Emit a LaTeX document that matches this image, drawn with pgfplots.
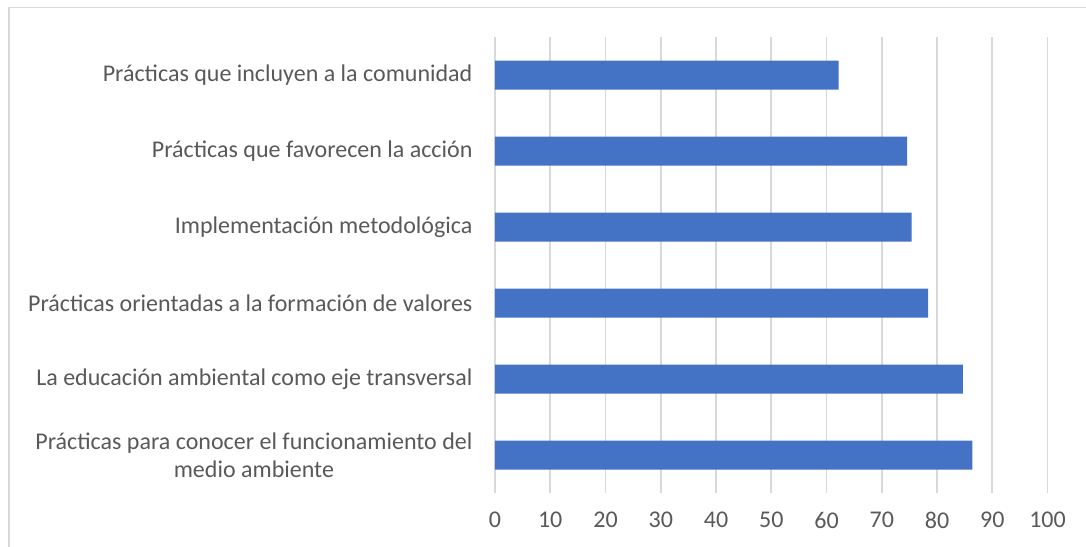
\documentclass[border=0pt]{standalone}
\usepackage{fontspec}
\setmainfont{Carlito}
\usepackage{pgfplots}
\pgfplotsset{compat=1.18}
\definecolor{barblue}{HTML}{4472C4}
\definecolor{txt}{HTML}{595959}
\definecolor{gridc}{HTML}{D9D9D9}
\begin{document}
\begin{tikzpicture}
\useasboundingbox (-247.5pt,-26.5pt) rectangle (295.5pt,246.5pt);
\draw[gridc, line width=0.6pt] (-243pt,-40pt) -- (-243pt,242.9pt) -- (300pt,242.9pt);
\begin{axis}[at={(0,0)}, anchor=south west, scale only axis,
  width=276.25pt, height=228pt,
  xbar, bar width=14.5pt,
  xmin=0, xmax=100, ymin=-0.5, ymax=5.5,
  xtick={0,10,...,100}, ytick={0,...,5},
  yticklabels={{Prácticas para conocer el funcionamiento del\\medio ambiente},
    {La educación ambiental como eje transversal},
    {Prácticas orientadas a la formación de valores},
    {Implementación metodológica},
    {Prácticas que favorecen la acción},
    {Prácticas que incluyen a la comunidad}},
  axis line style={draw=none},
  xmajorgrids, major grid style={gridc, line width=0.8pt},
  tick style={draw=none},
  /pgf/number format/assume math mode=true,
  ticklabel style={text=txt, font=\fontsize{12}{14}\selectfont},
  yticklabel style={align=center, xshift=-3.5pt},
  xticklabel style={yshift=-6pt},
]
\addplot[fill=barblue, draw=none] coordinates {
  (86.4,0) (84.7,1) (78.4,2) (75.4,3) (74.6,4) (62.2,5)
};
\end{axis}
\end{tikzpicture}
\end{document}
